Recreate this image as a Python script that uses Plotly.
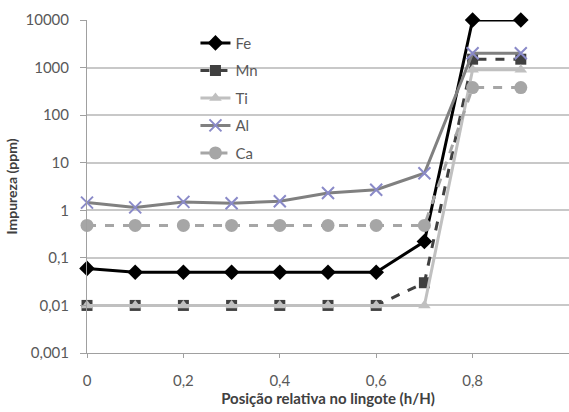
import plotly.graph_objects as go

x = [0, 0.1, 0.2, 0.3, 0.4, 0.5, 0.6, 0.7, 0.8, 0.9]
fe = [0.06, 0.05, 0.05, 0.05, 0.05, 0.05, 0.05, 0.22, 10000, 10000]
mn = [0.01, 0.01, 0.01, 0.01, 0.01, 0.01, 0.01, 0.03, 1500, 1500]
ti = [0.01, 0.01, 0.01, 0.01, 0.01, 0.01, 0.01, 0.01, 900, 900]
al = [1.45, 1.15, 1.5, 1.4, 1.55, 2.3, 2.7, 6.0, 2000, 2000]
ca = [0.48, 0.48, 0.48, 0.48, 0.48, 0.48, 0.48, 0.48, 380, 380]

ytickvals = [0.001, 0.01, 0.1, 1, 10, 100, 1000, 10000]
yticktext = ["0,001", "0,01", "0,1", "1", "10", "100", "1000", "10000"]
xtickvals = [0, 0.2, 0.4, 0.6, 0.8, 1.0]
xticktext = ["0", "0,2", "0,4", "0,6", "0,8", "1"]

FONT = "Lato, 'Open Sans', sans-serif"

series = [
    ("Fe", fe, "#000000", "solid", dict(symbol="diamond", size=12, color="#000000"), 3),
    ("Mn", mn, "#404040", "dash", dict(symbol="square", size=11, color="#404040"), 3),
    ("Ti", ti, "#c0c0c0", "solid", dict(symbol="triangle-up", size=11, color="#c0c0c0"), 3),
    ("Al", al, "#808080", "solid", dict(symbol="x-thin", size=12, line=dict(color="#8a8ac8", width=2), color="#8a8ac8"), 3),
    ("Ca", ca, "#a6a6a6", "dash", dict(symbol="circle", size=13, color="#a6a6a6"), 3),
]

fig = go.Figure()
for name, vals, col, dash, marker, w in series:
    fig.add_trace(go.Scatter(
        x=x, y=vals, name=name, mode="lines+markers",
        line=dict(color=col, width=w, dash=dash),
        marker=marker, legendgroup=name, cliponaxis=False,
    ))

fig.update_layout(
    width=569, height=412,
    margin=dict(l=87, r=0, t=20, b=59),
    paper_bgcolor="white", plot_bgcolor="white",
    font=dict(family=FONT, size=15, color="#595959"),
    showlegend=True,
    legend=dict(x=0.225, y=0.98, xanchor="left", yanchor="top",
                bgcolor="rgba(0,0,0,0)", tracegroupgap=5,
                font=dict(size=15, color="#595959")),
    xaxis=dict(range=[0, 1], tickvals=xtickvals, ticktext=xticktext,
               showgrid=False, zeroline=False, showline=True, linecolor="#a0a0a0",
               ticks="outside", ticklen=4, tickcolor="#a0a0a0", ticklabelstandoff=10,
               title=dict(text="<b>Posição relativa no lingote (h/H)</b>", standoff=2,
                          font=dict(size=15, color="#404040"))),
    yaxis=dict(type="log", range=[-3, 4], tickvals=ytickvals, ticktext=yticktext,
               showgrid=True, gridcolor="#c8c8c8", gridwidth=1.5, zeroline=False,
               showline=True, linecolor="#a0a0a0",
               ticks="outside", ticklen=6, tickcolor="#a0a0a0", ticklabelstandoff=8,
               title=dict(text="<b>Impureza (ppm)</b>", standoff=4,
                          font=dict(size=14, color="#404040"))),
)

fig.write_html("out.html")
